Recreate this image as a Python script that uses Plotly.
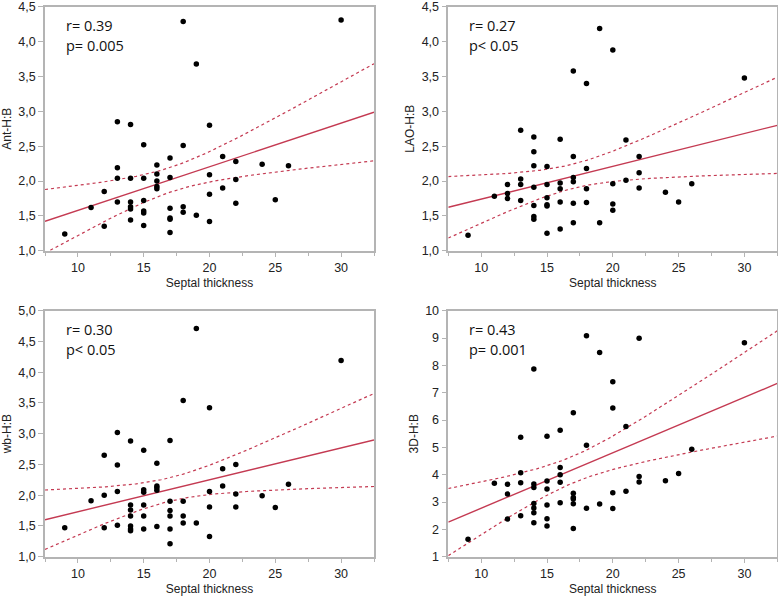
import numpy as np
import plotly.graph_objects as go

# ---------------- data ----------------
ant_x = [9, 11, 12, 12, 13, 13, 13, 13, 14, 14, 14, 14, 14, 14,
         15, 15, 15, 15, 15, 15, 16, 16, 16, 16, 16,
         17, 17, 17, 17, 17, 17, 18, 18, 18, 18, 19, 19,
         20, 20, 20, 20, 21, 21, 22, 22, 22, 24, 25, 26, 30]
ant_y = [1.24, 1.62, 1.85, 1.35, 2.85, 2.19, 2.04, 1.70, 2.81, 2.04, 1.70, 1.63, 1.60, 1.44,
         2.52, 2.04, 1.72, 1.57, 1.54, 1.36, 2.23, 2.10, 2.00, 1.92, 1.89,
         2.33, 2.05, 1.61, 1.47, 1.45, 1.26, 4.29, 2.51, 1.63, 1.55, 3.68, 1.51,
         2.80, 2.09, 1.81, 1.42, 2.35, 1.90, 2.28, 2.02, 1.68, 2.24, 1.73, 2.22, 4.31]

lao_x = [9, 11, 12, 12, 12, 13, 13, 13, 13, 14, 14, 14, 14, 14, 14, 14,
         15, 15, 15, 15, 15, 15, 16, 16, 16, 16, 16,
         17, 17, 17, 17, 17, 17, 18, 18, 18, 18, 19, 19,
         20, 20, 20, 20, 21, 21, 22, 22, 22, 24, 25, 26, 30]
lao_y = [1.22, 1.78, 1.95, 1.82, 1.75, 2.73, 2.03, 1.95, 1.72, 2.63, 2.42, 2.22, 1.91, 1.65, 1.49, 1.45,
         2.21, 1.95, 1.76, 1.66, 1.64, 1.25, 2.60, 1.97, 1.89, 1.70, 1.31,
         3.58, 2.35, 2.05, 1.99, 1.68, 1.40, 3.40, 2.18, 1.89, 1.69, 4.19, 1.40,
         3.88, 1.96, 1.67, 1.58, 2.59, 2.01, 2.35, 2.12, 1.90, 1.84, 1.70, 1.96, 3.48]

wb_x = [9, 11, 12, 12, 12, 13, 13, 13, 13, 14, 14, 14, 14, 14, 14, 14,
        15, 15, 15, 15, 15, 15, 16, 16, 16, 16, 16,
        17, 17, 17, 17, 17, 17, 18, 18, 18, 18, 19, 19,
        20, 20, 20, 20, 21, 21, 22, 22, 22, 24, 25, 26, 30]
wb_y = [1.47, 1.91, 2.65, 2.00, 1.47, 3.02, 2.49, 2.06, 1.51, 2.88, 1.84, 1.76, 1.66, 1.50, 1.45, 1.42,
        2.73, 2.09, 2.05, 1.84, 1.66, 1.45, 2.52, 2.15, 2.12, 2.08, 1.49,
        2.89, 1.90, 1.75, 1.66, 1.45, 1.21, 3.54, 1.90, 1.66, 1.55, 4.71, 1.55,
        3.42, 2.06, 1.81, 1.33, 2.43, 2.15, 2.50, 2.02, 1.81, 1.99, 1.80, 2.18, 4.19]

d3_x = [9, 11, 12, 12, 12, 13, 13, 13, 13, 14, 14, 14, 14, 14, 14, 14,
        15, 15, 15, 15, 15, 15, 16, 16, 16, 16, 16,
        17, 17, 17, 17, 17, 17, 18, 18, 18, 19, 19,
        20, 20, 20, 20, 21, 21, 22, 22, 22, 24, 25, 26, 30]
d3_y = [1.64, 3.69, 3.65, 3.29, 2.38, 5.37, 4.07, 3.71, 2.50, 7.87, 3.66, 3.53, 2.95, 2.78, 2.61, 2.24,
        5.41, 3.77, 3.48, 2.89, 2.39, 2.12, 5.63, 4.26, 4.00, 3.72, 2.97,
        6.27, 3.32, 3.17, 3.11, 2.94, 2.03, 9.08, 5.08, 2.77, 8.47, 2.93,
        7.40, 6.44, 3.34, 2.76, 5.76, 3.39, 8.99, 3.93, 3.73, 3.78, 4.04, 4.93, 8.83]

y_titles = ["Ant-H:B", "LAO-H:B", "wb-H:B", "3D-H:B"]
r_labels = ["r= 0.39", "r= 0.27", "r= 0.30", "r= 0.43"]
p_labels = ["p= 0.005", "p< 0.05", "p< 0.05", "p= 0.001"]
x_title = "Septal thickness"

# ---------------- styling ----------------
W, H = 778, 597
LINE_RED = "#c43a52"
FRAME = "#b4b4b4"
TXT = "#222222"
T975 = 2.01

left_dom = [45 / W, 374 / W]
right_dom = [448.3 / W, 777.3 / W]
top_dom = [(H - 250.7) / H, (H - 6.8) / H]
bot_dom = [(H - 556.7) / H, (H - 310.7) / H]

panels = [
    (ant_x, ant_y, left_dom, top_dom, [1, 4.5], 0.5, ".1f"),
    (lao_x, lao_y, right_dom, top_dom, [1, 4.5], 0.5, ".1f"),
    (wb_x, wb_y, left_dom, bot_dom, [1, 5], 0.5, ".1f"),
    (d3_x, d3_y, right_dom, bot_dom, [1, 10], 1, "d"),
]

XR = [7.5, 32.5]

fig = go.Figure()
layout = dict(width=W, height=H, margin=dict(l=0, r=0, t=0, b=0, autoexpand=False),
              paper_bgcolor="white", plot_bgcolor="white",
              showlegend=False, separators=",.",
              font=dict(family="Liberation Sans, Arial, sans-serif", color=TXT, size=12))
annotations = []

for i, (xs, ys, xd, yd, yr, ydt, yfmt) in enumerate(panels):
    n = i + 1
    xa = "x" if n == 1 else f"x{n}"
    ya = "y" if n == 1 else f"y{n}"
    x = np.array(xs, float)
    y = np.array(ys, float)
    slope, icpt = np.polyfit(x, y, 1)
    m = len(x)
    resid = y - (icpt + slope * x)
    s = np.sqrt(np.sum(resid ** 2) / (m - 2))
    sxx = np.sum((x - x.mean()) ** 2)
    xg = np.linspace(XR[0], XR[1], 120)
    yg = icpt + slope * xg
    se = s * np.sqrt(1 / m + (xg - x.mean()) ** 2 / sxx)

    for yy in (yg + T975 * se, yg - T975 * se):
        fig.add_trace(go.Scatter(x=xg, y=yy, mode="lines", xaxis=xa, yaxis=ya,
                                 line=dict(color=LINE_RED, width=1.2, dash="dot"),
                                 hoverinfo="skip"))
    fig.add_trace(go.Scatter(x=xg, y=yg, mode="lines", xaxis=xa, yaxis=ya,
                             line=dict(color=LINE_RED, width=1.4), hoverinfo="skip"))
    fig.add_trace(go.Scatter(x=x, y=y, mode="markers", xaxis=xa, yaxis=ya,
                             marker=dict(color="black", size=5.5)))

    axkey_x = "xaxis" if n == 1 else f"xaxis{n}"
    axkey_y = "yaxis" if n == 1 else f"yaxis{n}"
    layout[axkey_x] = dict(
        domain=xd, range=XR, anchor=ya, tick0=0, dtick=5, automargin=False,
        ticklabeloverflow="allow",
        ticks="outside", ticklen=5, tickwidth=1, tickcolor=FRAME,
        minor=dict(tick0=0, dtick=2.5, ticks="outside", ticklen=4, tickwidth=1, tickcolor=FRAME),
        showline=True, linecolor=FRAME, linewidth=1.5, mirror=True,
        showgrid=False, zeroline=False,
        tickfont=dict(size=12.5, color=TXT),
        title=dict(text=x_title, font=dict(size=12, color=TXT), standoff=4))
    layout[axkey_y] = dict(
        domain=yd, range=yr, anchor=xa, tick0=0, dtick=ydt, tickformat=yfmt, automargin=False,
        ticklabeloverflow="allow",
        ticks="outside", ticklen=5, tickwidth=1, tickcolor=FRAME,
        showline=True, linecolor=FRAME, linewidth=1.5, mirror=True,
        showgrid=False, zeroline=False,
        tickfont=dict(size=12.5, color=TXT),
        title=dict(text=y_titles[i], font=dict(size=12, color=TXT), standoff=4))

    xref = "x domain" if n == 1 else f"x{n} domain"
    yref = "y domain" if n == 1 else f"y{n} domain"
    for txt, yy in ((r_labels[i], 0.925), (p_labels[i], 0.842)):
        annotations.append(dict(text=txt, xref=xref, yref=yref, x=0.058, y=yy,
                                xanchor="left", yanchor="middle", showarrow=False,
                                font=dict(family="Open Sans, sans-serif", size=14.5, color="#111111")))

layout["annotations"] = annotations
fig.update_layout(**layout)
fig.write_html("out.html", config={"displayModeBar": False},
               post_script="document.body.style.margin='0';document.body.style.overflow='hidden';")
